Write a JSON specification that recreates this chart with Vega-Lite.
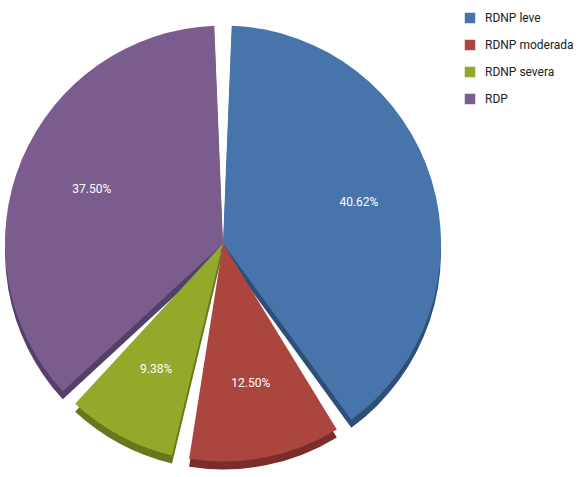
{
  "$schema": "https://vega.github.io/schema/vega-lite/v6.json",
  "width": 446,
  "height": 477,
  "autosize": "none",
  "padding": {"left": 0, "top": 5, "right": 133, "bottom": 0},
  "background": "white",
  "config": {"view": {"stroke": null}, "font": "Roboto"},
  "data": {
    "values": [
      {"cat": "RDNP leve", "pct": 40.62, "label": "40.62%", "i": 1},
      {"cat": "RDNP moderada", "pct": 12.50, "label": "12.50%", "i": 2},
      {"cat": "RDNP severa", "pct": 9.38, "label": "9.38%", "i": 3},
      {"cat": "RDP", "pct": 37.50, "label": "37.50%", "i": 4}
    ]
  },
  "encoding": {
    "theta": {"field": "pct", "type": "quantitative", "stack": true},
    "order": {"field": "i", "type": "quantitative"}
  },
  "layer": [
    {
      "mark": {"type": "arc", "radius": 218, "padAngle": 0.08, "yOffset": 8},
      "encoding": {
        "fill": {
          "field": "cat", "type": "nominal",
          "scale": {"domain": ["RDNP leve", "RDNP moderada", "RDNP severa", "RDP"], "range": ["#2e4e78", "#7a2d2b", "#66771d", "#553f68"]},
          "legend": null
        }
      }
    },
    {
      "mark": {"type": "arc", "radius": 218, "padAngle": 0.08},
      "encoding": {
        "color": {
          "field": "cat", "type": "nominal",
          "scale": {"domain": ["RDNP leve", "RDNP moderada", "RDNP severa", "RDP"], "range": ["#4674ab", "#ab463f", "#94a82a", "#7b5c8f"]},
          "legend": {
            "title": null,
            "orient": "none",
            "legendX": 464,
            "legendY": 7,
            "symbolType": "square",
            "symbolSize": 110,
            "symbolStrokeWidth": 0,
            "labelFontSize": 12,
            "labelColor": "#222222",
            "labelFont": "Roboto",
            "rowPadding": 15,
            "labelOffset": 9,
            "labelLimit": 120
          }
        }
      }
    },
    {
      "mark": {"type": "text", "radius": 142, "color": "white", "fontSize": 12, "font": "Roboto"},
      "encoding": {"text": {"field": "label"}}
    }
  ],
  "resolve": {"scale": {"color": "independent", "fill": "independent"}}
}
